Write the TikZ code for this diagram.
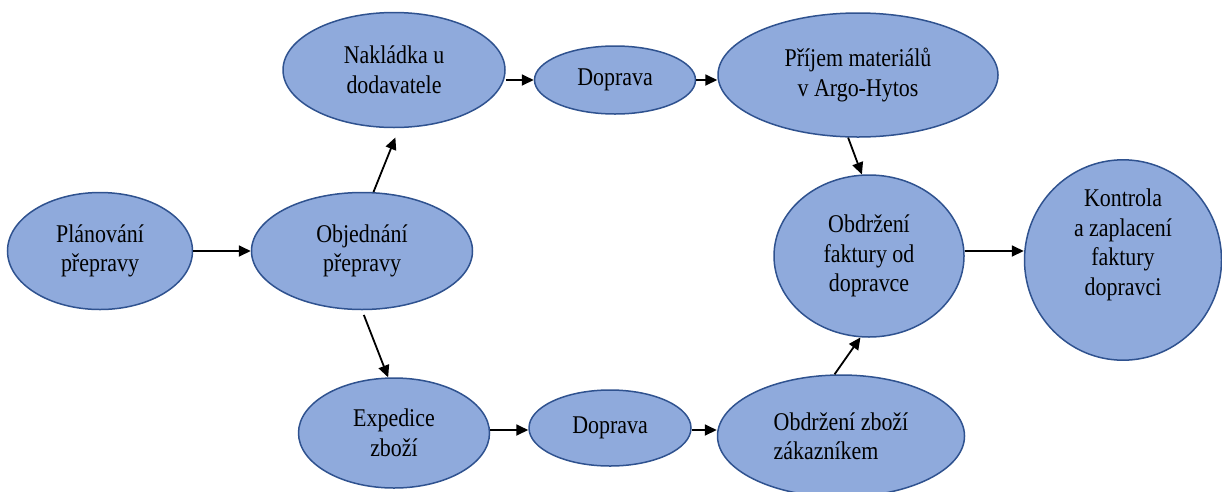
\documentclass[tikz,border=0pt]{standalone}
\usepackage{fontspec}
\setmainfont{Liberation Serif}[FakeStretch=0.86]
\usetikzlibrary{shapes.geometric,arrows.meta,calc}
\definecolor{fillcol}{HTML}{8FAADC}
\definecolor{bordercol}{HTML}{2F528F}
\begin{document}
\begin{tikzpicture}[x=1pt,y=1pt,
  proc/.style={ellipse, draw=bordercol, fill=fillcol, line width=1.5pt, inner sep=0pt, align=center, font=\fontsize{25.5}{29.5}\selectfont},
  arr/.style={-{Triangle[length=12pt,width=11pt]}, line width=1.8pt, black}]
\useasboundingbox (0,0) rectangle (1222,-491);
\node[proc, minimum width=185, minimum height=117] (plan) at (100,-251) {Plánování\\přepravy};
\node[proc, minimum width=221, minimum height=117] (obj) at (362,-251) {Objednání\\přepravy};
\node[proc, minimum width=222, minimum height=115] (nak) at (394,-70) {Nakládka u\\dodavatele};
\node[proc, minimum width=161, minimum height=68] (dop1) at (615,-80) {Doprava};
\node[proc, minimum width=280, minimum height=124] (prij) at (858,-75) {Příjem materiálů\\v Argo-Hytos};
\node[proc, minimum width=190, minimum height=162] (fakt) at (869,-256) {Obdržení\\faktury od\\dopravce};
\node[proc, minimum width=197, minimum height=190] (kontr) at (1123,-260) {Kontrola\\a zaplacení\\faktury\\dopravci\\[6pt]};
\node[proc, minimum width=191, minimum height=110] (exp) at (394,-433) {Expedice\\zboží};
\node[proc, minimum width=162, minimum height=76] (dop2) at (610,-428) {Doprava};
\node[proc, minimum width=247, minimum height=122, align=left] (zbozi) at (841,-436) {Obdržení zboží\\zákazníkem};
\draw[arr] (plan.east) -- (obj.west);
\draw[arr, shorten >=10pt] (obj.79) -- (nak.-85);
\draw[arr, shorten <=5pt] (obj.-90) -- (exp.96);
\draw[arr] (nak.east |- dop1.west) -- (dop1.west);
\draw[arr] (dop1.east) -- (dop1.east -| prij.west);
\draw[arr] (prij.-99) -- (fakt.95);
\draw[arr] ([yshift=5pt]fakt.east) -- ([yshift=5pt]fakt.east -| kontr.west);
\draw[arr] (exp.east |- 0,-430) -- (dop2.west |- 0,-430);
\draw[arr] (dop2.east |- 0,-430) -- (zbozi.west |- 0,-430);
\draw[arr] (zbozi.96) -- (fakt.-96);
\end{tikzpicture}
\end{document}
